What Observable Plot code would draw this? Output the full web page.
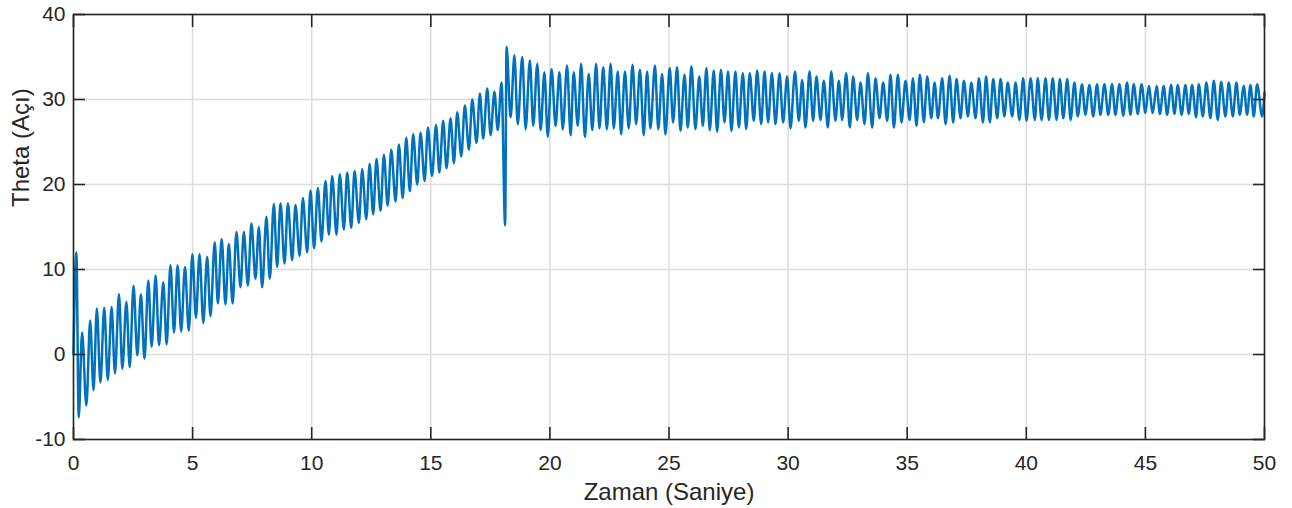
<!DOCTYPE html>
<html>
<head>
<meta charset="utf-8">
<script src="https://cdn.jsdelivr.net/npm/d3@7"></script>
<script src="https://cdn.jsdelivr.net/npm/@observablehq/plot@0.6"></script>
<style>
  html, body { margin: 0; padding: 0; background: #ffffff; }
  #chart { width: 1292px; height: 508px; }
</style>
</head>
<body>
<div id="chart"></div>
<script>
// Time stamps (s) of the extrema
const time = [
  0, 0.12, 0.22, 0.36, 0.54, 0.70, 0.84, 0.98, 1.13, 1.29,
  1.44, 1.60, 1.74, 1.91, 2.05, 2.22, 2.36, 2.52, 2.68, 2.83,
  2.98, 3.14, 3.28, 3.45, 3.59, 3.77, 3.91, 4.07, 4.22, 4.37,
  4.52, 4.68, 4.84, 4.99, 5.14, 5.29, 5.45, 5.61, 5.75, 5.93,
  6.06, 6.22, 6.38, 6.52, 6.68, 6.84, 7.01, 7.15, 7.32, 7.47,
  7.64, 7.78, 7.92, 8.10, 8.24, 8.41, 8.55, 8.69, 8.86, 9.00,
  9.18, 9.32, 9.49, 9.63, 9.81, 9.95, 10.10, 10.26, 10.41, 10.58,
  10.72, 10.86, 11.04, 11.18, 11.35, 11.49, 11.66, 11.80, 11.98, 12.12,
  12.29, 12.43, 12.58, 12.72, 12.89, 13.03, 13.19, 13.34, 13.52, 13.66,
  13.82, 13.97, 14.12, 14.26, 14.43, 14.57, 14.74, 14.88, 15.05, 15.22,
  15.36, 15.52, 15.66, 15.83, 15.97, 16.11, 16.28, 16.43, 16.60, 16.74,
  16.92, 17.06, 17.20, 17.37, 17.51, 17.67, 17.81, 17.97, 18.12, 18.18,
  18.35, 18.51, 18.65, 18.84, 18.98, 19.16, 19.30, 19.47, 19.61, 19.77,
  19.91, 20.07, 20.24, 20.40, 20.54, 20.72, 20.87, 21.00, 21.17, 21.31,
  21.47, 21.63, 21.78, 21.94, 22.08, 22.24, 22.39, 22.55, 22.68, 22.85,
  22.99, 23.15, 23.31, 23.47, 23.62, 23.78, 23.94, 24.08, 24.22, 24.41,
  24.55, 24.71, 24.85, 25.03, 25.17, 25.34, 25.48, 25.65, 25.79, 25.94,
  26.11, 26.27, 26.42, 26.57, 26.71, 26.88, 27.02, 27.18, 27.33, 27.48,
  27.62, 27.79, 27.93, 28.10, 28.24, 28.39, 28.56, 28.70, 28.87, 29.01,
  29.16, 29.32, 29.47, 29.64, 29.79, 29.96, 30.10, 30.29, 30.45, 30.59,
  30.73, 30.90, 31.05, 31.19, 31.36, 31.50, 31.67, 31.81, 31.99, 32.13,
  32.27, 32.44, 32.59, 32.73, 32.90, 33.04, 33.21, 33.35, 33.53, 33.67,
  33.84, 33.99, 34.16, 34.30, 34.44, 34.61, 34.76, 34.93, 35.10, 35.24,
  35.39, 35.53, 35.70, 35.84, 36.01, 36.15, 36.29, 36.47, 36.61, 36.78,
  36.93, 37.07, 37.24, 37.38, 37.55, 37.69, 37.87, 38.01, 38.18, 38.31,
  38.47, 38.61, 38.78, 38.92, 39.08, 39.22, 39.41, 39.55, 39.71, 39.87,
  40.01, 40.18, 40.36, 40.48, 40.64, 40.81, 40.95, 41.11, 41.27, 41.41,
  41.55, 41.72, 41.86, 42.02, 42.16, 42.34, 42.48, 42.65, 42.81, 42.97,
  43.11, 43.28, 43.44, 43.60, 43.74, 43.91, 44.07, 44.23, 44.37, 44.51,
  44.68, 44.84, 45.00, 45.14, 45.31, 45.47, 45.61, 45.77, 45.91, 46.08,
  46.22, 46.36, 46.52, 46.68, 46.82, 46.96, 47.13, 47.24, 47.41, 47.56,
  47.73, 47.87, 48.04, 48.18, 48.36, 48.50, 48.67, 48.82, 48.96, 49.13,
  49.27, 49.41, 49.55, 49.69, 49.90, 50.00
];

// Theta (degrees) at those extrema
const theta = [
  0, 12.0, -7.4, 2.6, -6.0, 4.0, -4.2, 5.4, -3.3, 5.5,
  -3.0, 5.6, -2.2, 7.1, -1.7, 6.2, -1.5, 8.1, -0.1, 7.1,
  -0.5, 8.7, 0.9, 9.3, 1.1, 8.5, 1.2, 10.5, 2.6, 10.5,
  2.7, 10.3, 2.8, 11.8, 4.3, 11.8, 3.7, 11.5, 4.5, 13.2,
  6.0, 13.6, 5.9, 13.0, 6.0, 14.4, 7.9, 14.4, 8.1, 15.4,
  8.9, 15.0, 7.9, 16.2, 8.9, 17.7, 10.3, 17.8, 10.7, 17.8,
  11.1, 17.6, 11.6, 18.4, 12.0, 19.3, 12.5, 19.6, 13.3, 20.4,
  14.1, 21.0, 14.1, 21.2, 14.7, 21.4, 14.9, 21.6, 15.5, 21.8,
  15.9, 22.4, 16.5, 23.0, 16.9, 23.5, 17.5, 24.1, 18.0, 24.7,
  18.4, 25.5, 19.2, 25.9, 20.0, 26.1, 20.4, 26.7, 21.0, 27.0,
  21.4, 27.5, 21.9, 27.8, 22.5, 28.5, 23.3, 29.3, 24.1, 30.0,
  24.9, 30.7, 25.4, 31.3, 25.8, 30.9, 26.4, 32.0, 15.2, 36.2,
  27.9, 35.2, 27.1, 35.0, 26.5, 34.6, 26.9, 34.2, 26.4, 33.2,
  25.6, 33.6, 26.9, 33.2, 26.5, 34.0, 25.8, 33.2, 26.9, 34.2,
  25.6, 33.0, 26.4, 34.2, 26.6, 33.8, 26.5, 34.2, 26.6, 33.3,
  25.9, 33.3, 26.6, 34.1, 27.1, 33.5, 25.8, 33.3, 26.6, 34.0,
  26.5, 33.0, 25.9, 33.7, 27.3, 33.8, 26.3, 32.9, 26.7, 33.9,
  26.5, 32.7, 26.9, 33.7, 26.4, 33.4, 26.2, 33.5, 27.3, 33.3,
  26.3, 33.3, 26.7, 33.1, 26.5, 33.1, 27.5, 33.4, 27.1, 33.3,
  27.3, 33.1, 27.1, 33.1, 27.3, 32.7, 26.6, 33.3, 27.5, 32.3,
  26.7, 33.3, 27.5, 32.7, 27.6, 32.2, 26.7, 33.3, 27.5, 32.2,
  27.6, 33.1, 26.7, 32.7, 27.6, 32.0, 27.1, 33.1, 26.7, 32.5,
  27.8, 32.0, 27.5, 32.9, 26.7, 32.9, 27.3, 32.2, 27.6, 32.5,
  26.9, 32.9, 27.3, 32.7, 27.8, 32.0, 27.8, 32.5, 27.1, 32.8,
  27.3, 32.4, 27.8, 32.2, 28.0, 32.0, 27.8, 32.5, 27.3, 32.7,
  27.3, 32.4, 27.8, 32.4, 28.0, 32.0, 28.0, 32.0, 27.6, 32.5,
  27.5, 32.5, 27.6, 32.5, 27.6, 32.5, 27.6, 32.5, 27.6, 32.4,
  27.8, 32.4, 27.6, 32.0, 28.0, 31.8, 28.2, 31.7, 28.0, 31.8,
  28.2, 31.8, 28.2, 31.8, 28.2, 31.8, 28.1, 32.0, 28.2, 31.8,
  28.3, 31.8, 28.4, 31.6, 28.4, 31.6, 28.3, 31.6, 28.2, 31.7,
  28.3, 31.7, 28.2, 31.7, 28.3, 31.7, 27.9, 31.8, 28.0, 32.0,
  27.8, 32.2, 27.6, 32.1, 28.0, 32.0, 28.0, 32.0, 28.2, 31.6,
  28.2, 31.7, 28.0, 31.8, 28.0, 30.8
];

const xTicks = [0, 5, 10, 15, 20, 25, 30, 35, 40, 45, 50];
const yTicks = [-10, 0, 10, 20, 30, 40];
const xTitle = ["Zaman (Saniye)"];
const yTitle = ["Theta (Açı)"];

const series = time.map((t, i) => ({t, v: theta[i]}));

const ink = "#262626";
const gridColor = "#dcdcdc";
const lineColor = "#0072BD";
const noText = () => "";
const plain = d => String(d);

const chart = Plot.plot({
  width: 1292,
  height: 508,
  marginLeft: 73,
  marginRight: 28,
  marginTop: 14,
  marginBottom: 69,
  style: {fontFamily: "'Liberation Sans', Arial, Helvetica, sans-serif", color: ink, background: "#ffffff"},
  x: {domain: [0, 50], label: null},
  y: {domain: [-10, 40], label: null},
  marks: [
    Plot.gridX(xTicks, {stroke: gridColor, strokeOpacity: 1, strokeWidth: 1.5}),
    Plot.gridY(yTicks, {stroke: gridColor, strokeOpacity: 1, strokeWidth: 1.5}),
    Plot.line(series, {x: "t", y: "v", stroke: lineColor, strokeWidth: 2.5, strokeLinejoin: "round", curve: "monotone-x"}),
    Plot.frame({stroke: ink, strokeWidth: 1.6}),
    // inward ticks on all four sides
    Plot.axisX(xTicks, {anchor: "bottom", tickSize: -12, tickFormat: noText, label: null, strokeWidth: 1.6, stroke: ink}),
    Plot.axisX(xTicks, {anchor: "top", tickSize: -12, tickFormat: noText, label: null, strokeWidth: 1.6, stroke: ink}),
    Plot.axisY(yTicks, {anchor: "left", tickSize: -12, tickFormat: noText, label: null, strokeWidth: 1.6, stroke: ink}),
    Plot.axisY(yTicks, {anchor: "right", tickSize: -12, tickFormat: noText, label: null, strokeWidth: 1.6, stroke: ink}),
    // tick labels
    Plot.axisX(xTicks, {anchor: "bottom", tickSize: 0, tickPadding: 16, tickFormat: plain, label: null, fontSize: 21, fill: ink}),
    Plot.axisY(yTicks, {anchor: "left", tickSize: 0, tickPadding: 8, tickFormat: plain, label: null, fontSize: 21, fill: ink}),
    // axis titles
    Plot.text(xTitle, {frameAnchor: "bottom", dy: 53, text: d => d, fontSize: 24, lineAnchor: "middle", fill: ink}),
    Plot.text(yTitle, {frameAnchor: "left", dx: -52, dy: -20, rotate: -90, text: d => d, fontSize: 24, lineAnchor: "middle", fill: ink})
  ]
});

document.getElementById("chart").appendChild(chart);
</script>
</body>
</html>
